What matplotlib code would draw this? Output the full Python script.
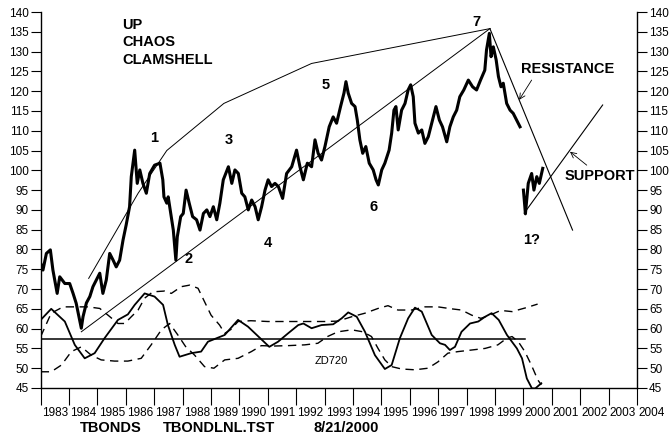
import matplotlib
matplotlib.use('Agg')
import matplotlib.pyplot as plt

plt.rcParams['font.family'] = ['Liberation Sans', 'DejaVu Sans']

# T-bond continuous contract (year, price)
price_years = [1983.00, 1983.08, 1983.20, 1983.34, 1983.43, 1983.58, 1983.67, 1983.85, 1984.02, 1984.14,
               1984.25, 1984.37, 1984.43, 1984.49, 1984.61, 1984.73, 1984.84, 1984.96, 1985.08, 1985.19,
               1985.31, 1985.43, 1985.55, 1985.66, 1985.78, 1985.90, 1986.01, 1986.13, 1986.19, 1986.31,
               1986.40, 1986.49, 1986.60, 1986.72, 1986.84, 1987.01, 1987.20, 1987.30, 1987.34, 1987.44,
               1987.49, 1987.58, 1987.67, 1987.76, 1987.81, 1987.93, 1988.02, 1988.12, 1988.23, 1988.35,
               1988.49, 1988.61, 1988.73, 1988.85, 1988.96, 1989.08, 1989.20, 1989.31, 1989.43, 1989.61,
               1989.73, 1989.84, 1989.96, 1990.08, 1990.19, 1990.31, 1990.43, 1990.55, 1990.66, 1990.78,
               1990.90, 1991.01, 1991.13, 1991.25, 1991.37, 1991.52, 1991.66, 1991.84, 1992.01, 1992.13,
               1992.25, 1992.39, 1992.54, 1992.66, 1992.77, 1992.89, 1993.01, 1993.16, 1993.30, 1993.42,
               1993.56, 1993.68, 1993.75, 1993.83, 1993.95, 1994.07, 1994.15, 1994.24, 1994.34, 1994.45,
               1994.57, 1994.71, 1994.81, 1994.89, 1995.01, 1995.12, 1995.27, 1995.36, 1995.44, 1995.51,
               1995.59, 1995.71, 1995.83, 1995.94, 1996.03, 1996.12, 1996.18, 1996.30, 1996.42, 1996.53,
               1996.65, 1996.77, 1996.92, 1997.04, 1997.15, 1997.30, 1997.41, 1997.53, 1997.65, 1997.76,
               1997.90, 1998.06, 1998.21, 1998.35, 1998.49, 1998.64, 1998.70, 1998.80, 1998.86, 1998.94,
               1999.04, 1999.12, 1999.21, 1999.29, 1999.41, 1999.53, 1999.64, 1999.76, 1999.88]
price_values = [76.5, 74.8, 79.0, 79.9, 74.8, 68.9, 73.1, 71.4, 71.4, 68.9,
                66.4, 62.2, 60.1, 63.0, 66.5, 68.1, 70.6, 72.3, 74.0, 68.9,
                72.3, 79.0, 77.3, 75.6, 77.3, 82.4, 86.2, 90.8, 98.4, 105.1,
                96.7, 100.1, 96.7, 94.2, 99.2, 101.3, 101.8, 97.6, 93.3, 91.7,
                93.3, 89.1, 84.9, 77.3, 83.2, 88.3, 89.1, 95.0, 91.7, 88.3,
                87.5, 84.9, 89.1, 90.0, 88.3, 90.8, 87.5, 91.7, 97.6, 100.9,
                96.7, 100.1, 99.2, 94.2, 93.3, 90.0, 92.5, 90.8, 87.5, 90.8,
                95.0, 97.6, 95.9, 96.7, 95.9, 92.9, 99.2, 100.9, 105.1, 100.9,
                97.6, 101.8, 100.9, 107.7, 104.3, 102.6, 106.0, 111.0, 113.5, 111.9,
                116.1, 119.5, 122.4, 119.5, 116.9, 116.1, 112.7, 107.7, 104.3, 106.0,
                101.8, 100.1, 97.6, 96.3, 100.1, 101.8, 105.1, 109.4, 115.2, 116.1,
                110.2, 115.2, 116.9, 120.3, 121.6, 118.6, 111.9, 109.4, 110.2, 106.8,
                108.5, 111.9, 116.1, 112.7, 111.0, 107.2, 111.0, 113.5, 115.2, 118.6,
                120.3, 122.8, 121.1, 120.3, 122.8, 125.3, 130.4, 134.6, 128.7, 131.2,
                127.9, 123.7, 121.1, 122.0, 116.9, 115.2, 114.4, 112.7, 111.0]

# new contract segment in 2000
price2000_years = [2000.00, 2000.05, 2000.07, 2000.17, 2000.29, 2000.37, 2000.47, 2000.56, 2000.68]
price2000_values = [95.0, 90.8, 89.0, 96.7, 99.2, 95.0, 98.4, 96.7, 100.5]

# ZD720 oscillator (solid)
osc_years = [1983.00, 1983.37, 1983.85, 1984.20, 1984.55, 1984.90, 1985.25, 1985.72, 1986.07, 1986.31,
             1986.66, 1987.01, 1987.31, 1987.48, 1987.72, 1987.89, 1988.30, 1988.65, 1988.89, 1989.48,
             1989.95, 1990.30, 1991.05, 1991.36, 1991.71, 1992.07, 1992.25, 1992.54, 1992.89, 1993.30,
             1993.60, 1993.83, 1994.13, 1994.42, 1994.77, 1995.12, 1995.36, 1995.65, 1995.94, 1996.18,
             1996.42, 1996.77, 1997.06, 1997.24, 1997.41, 1997.59, 1997.82, 1998.12, 1998.41, 1998.65,
             1998.88, 1999.13, 1999.42, 1999.77, 1999.95, 2000.12, 2000.30, 2000.42, 2000.63]
osc_values = [62.2, 65.0, 61.8, 55.9, 52.5, 53.8, 57.6, 62.2, 63.6, 66.0,
              68.9, 68.1, 66.0, 60.9, 55.9, 52.9, 53.8, 54.2, 56.7, 58.4,
              62.2, 60.5, 55.4, 56.7, 58.8, 60.9, 61.3, 60.1, 60.9, 61.1,
              62.6, 64.1, 63.0, 59.2, 53.3, 49.8, 50.8, 57.6, 62.6, 65.3,
              64.3, 58.4, 56.3, 55.9, 54.6, 55.4, 59.2, 61.3, 61.8, 63.0,
              63.9, 62.2, 58.4, 55.0, 52.5, 47.4, 44.9, 44.9, 46.2]

# upper dashed band
upper_years = [1983.00, 1983.37, 1983.79, 1984.20, 1984.67, 1985.08, 1985.37, 1985.72, 1985.96, 1986.19,
               1986.43, 1986.66, 1986.95, 1987.37, 1987.60, 1987.95, 1988.25, 1988.54, 1988.77, 1989.00,
               1989.30, 1989.48, 1989.70, 1989.95, 1990.40, 1991.00, 1991.70, 1992.30, 1993.00, 1993.47,
               1993.95, 1994.42, 1994.88, 1995.23, 1995.58, 1996.06, 1996.53, 1996.99, 1997.47, 1997.82,
               1998.18, 1998.50, 1998.82, 1999.20, 1999.60, 2000.10, 2000.50]
upper_values = [58.0, 63.9, 65.5, 65.5, 65.5, 65.1, 63.4, 61.3, 61.3, 63.0,
                64.7, 67.7, 69.3, 69.5, 68.9, 70.6, 71.0, 70.2, 66.8, 63.4,
                60.9, 58.8, 59.8, 61.8, 62.0, 61.8, 61.8, 61.8, 61.8, 61.9,
                63.0, 63.9, 65.1, 65.8, 64.7, 64.7, 65.5, 65.5, 65.0, 64.7,
                63.4, 62.6, 63.4, 64.6, 64.3, 65.3, 66.2]

# lower dashed band
lower_years = [1983.00, 1983.37, 1983.73, 1984.08, 1984.43, 1984.78, 1985.13, 1985.60, 1986.07, 1986.54,
               1986.89, 1987.25, 1987.54, 1987.83, 1988.10, 1988.42, 1988.77, 1989.10, 1989.48, 1989.95,
               1990.42, 1990.77, 1991.20, 1991.70, 1992.30, 1992.76, 1993.10, 1993.47, 1993.95, 1994.35,
               1994.65, 1994.88, 1995.12, 1995.36, 1995.71, 1996.18, 1996.64, 1996.99, 1997.34, 1997.70,
               1998.18, 1998.65, 1999.10, 1999.42, 1999.60, 1999.82, 2000.05, 2000.28, 2000.51, 2000.63]
lower_values = [49.1, 49.1, 50.8, 54.2, 55.4, 53.3, 52.1, 51.8, 51.8, 52.5,
                55.9, 59.7, 61.3, 58.4, 55.5, 53.3, 50.4, 50.0, 52.1, 52.5,
                54.2, 55.7, 55.6, 55.7, 55.9, 56.3, 58.0, 59.2, 59.7, 59.2,
                58.0, 55.0, 52.1, 50.4, 49.8, 49.6, 50.0, 51.6, 53.8, 54.2,
                54.6, 55.0, 55.9, 57.6, 58.0, 56.7, 54.2, 50.8, 47.0, 45.8]

mid_level = 57.5
mid_years = [1983.0, 2000.05]

# trend lines drawn on the chart
envelope_years = [1984.69, 1986.43, 1987.44, 1989.45, 1992.54, 1998.82]
envelope_values = [72.7, 94.2, 105.0, 116.9, 127.0, 135.8]
base_years = [1984.43, 1998.82]
base_values = [59.2, 135.8]
resist_years = [1998.82, 2001.73]
resist_values = [135.8, 84.9]
support_years = [2000.03, 2002.79]
support_values = [89.2, 116.5]

wave_labels = ['1', '2', '3', '4', '5', '6', '7', '1?']
wave_years = [1987.0, 1988.22, 1989.64, 1991.0, 1993.05, 1994.72, 1998.33, 2000.28]
wave_values = [108.1, 77.6, 107.7, 81.6, 121.6, 90.8, 137.5, 82.4]

years = list(range(1983, 2005))
yticks = list(range(45, 141, 5))

fig = plt.figure(figsize=(6.7, 4.41), dpi=100)
ax = fig.add_axes([40.7 / 670, 53 / 441, (637 - 40.7) / 670, 376 / 441])

ax.plot(price_years, price_values, color='black', lw=2.2)
ax.plot(price2000_years, price2000_values, color='black', lw=2.2)

ax.plot(envelope_years, envelope_values, color='black', lw=0.7)
ax.plot(base_years, base_values, color='black', lw=0.7)
ax.plot(resist_years, resist_values, color='black', lw=0.8)
ax.plot(support_years, support_values, color='black', lw=0.8)

ax.plot(osc_years, osc_values, color='black', lw=1.3)
ax.plot(upper_years, upper_values, color='black', lw=1.0, dashes=(6, 4))
ax.plot(lower_years, lower_values, color='black', lw=1.0, dashes=(6, 4))
ax.plot(mid_years, [mid_level, mid_level], color='black', lw=1.1)

bold = dict(fontsize=10.5, fontweight='bold', color='black')
ax.text(1985.86, 136.7, 'UP', ha='left', va='center', **bold)
ax.text(1985.86, 132.3, 'CHAOS', ha='left', va='center', **bold)
ax.text(1985.86, 127.9, 'CLAMSHELL', ha='left', va='center', **bold)
for lab, yr, val in zip(wave_labels, wave_years, wave_values):
    ax.text(yr, val, lab, ha='center', va='center', **bold)
ax.text(1999.92, 125.6, 'RESISTANCE', ha='left', va='center', **bold)
ax.text(2001.45, 98.6, 'SUPPORT', ha='left', va='center', **bold)
ax.text(1992.66, 51.8, 'ZD720', ha='left', va='center', fontsize=8)

arrow = dict(arrowstyle='->', color='black', lw=0.6, shrinkA=0, shrinkB=0)
ax.annotate('', xy=(1999.85, 117.8), xytext=(2000.29, 122.8), arrowprops=arrow)
ax.annotate('', xy=(2001.64, 104.7), xytext=(2002.23, 101.3), arrowprops=arrow)

ax.set_xlim(1983, 2004)
ax.set_ylim(45, 140)
ax.spines['top'].set_visible(False)
for s in ['left', 'right', 'bottom']:
    ax.spines[s].set_linewidth(1.0)

ax.set_yticks(yticks)
ax.tick_params(axis='y', left=True, right=True, labelleft=True, labelright=True,
               length=7.2, width=0.8, pad=1.5, labelsize=8.5)
ax.set_xticks(years)
ax.set_xticklabels([])
ax.tick_params(axis='x', length=12, width=0.8)
for yr in years:
    ax.annotate(str(yr), xy=(yr + 0.5, 0), xycoords=('data', 'axes fraction'),
                xytext=(0, -17.8), textcoords='offset points', ha='center', va='center',
                fontsize=8.5, annotation_clip=False)

footer = dict(ha='left', va='center', fontsize=10.5, fontweight='bold')
fig.text(80 / 670, 13.5 / 441, 'TBONDS', **footer)
fig.text(163 / 670, 13.5 / 441, 'TBONDLNL.TST', **footer)
fig.text(313 / 670, 13.5 / 441, '8/21/2000', **footer)

fig.savefig('out.png', dpi=100)
